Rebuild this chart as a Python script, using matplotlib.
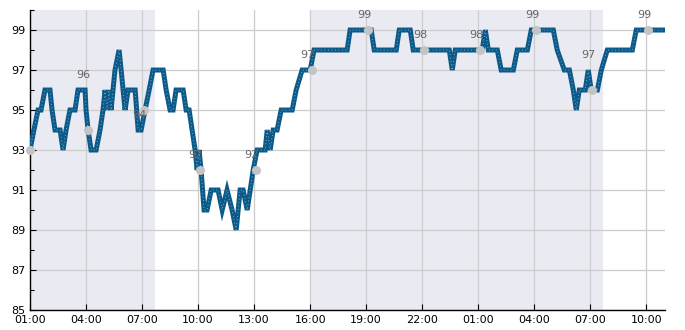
import datetime as dt
import matplotlib
matplotlib.use("Agg")
import matplotlib.pyplot as plt
import matplotlib.dates as mdates
from matplotlib.ticker import MultipleLocator

# hours since 01:00 on day 1, and value at that time
hours = [0.0, 0.21, 0.43, 0.59, 0.80, 1.07, 1.18, 1.34, 1.61, 1.77, 1.93, 2.14,
         2.41, 2.57, 2.95, 3.00, 3.11, 3.27, 3.54, 3.75, 3.91, 4.02, 4.13, 4.23,
         4.34, 4.55, 4.77, 4.88, 5.09, 5.25, 5.63, 5.79, 5.95, 6.16, 6.38, 6.59,
         7.13, 7.29, 7.50, 7.66, 7.82, 8.20, 8.36, 8.52, 8.68, 8.84, 8.95, 9.05,
         9.16, 9.32, 9.48, 9.70, 10.07, 10.29, 10.55, 10.82, 11.04, 11.25, 11.41,
         11.63, 11.95, 12.16, 12.59, 12.70, 12.86, 13.02, 13.23, 13.45, 14.04,
         14.25, 14.57, 15.00, 15.21, 16.98, 17.14, 18.27, 18.43, 19.61, 19.77,
         20.36, 20.52, 22.45, 22.61, 22.77, 24.21, 24.38, 24.54, 25.02, 25.23,
         25.88, 26.09, 26.63, 26.84, 28.02, 28.23, 28.61, 28.88, 29.09, 29.25,
         29.41, 29.73, 29.89, 30.05, 30.38, 30.59, 30.91, 32.25, 32.46, 33.96]
values = [93, 94, 95, 95, 96, 96, 95, 94, 94, 93, 94, 95,
          95, 96, 96, 95, 94, 93, 93, 94, 95, 96, 95, 96,
          95, 97, 98, 97, 95, 96, 96, 94, 94, 95, 96, 97,
          97, 96, 95, 95, 96, 96, 95, 95, 94, 93, 92, 93,
          92, 90, 90, 91, 91, 90, 91, 90, 89, 91, 91,
          90, 92, 93, 93, 94, 93, 94, 94, 95, 95,
          96, 97, 97, 98, 98, 99, 99, 98, 98, 99,
          99, 98, 98, 97, 98, 98, 99, 98, 98, 97,
          97, 98, 98, 99, 99, 98, 97, 97, 96, 95,
          96, 96, 97, 96, 96, 97, 98, 98, 99, 99]

# sampled readings (grey dots) and their labels
point_hours = [0.0, 3.1, 6.1, 9.1, 12.1, 15.1, 18.1, 21.1, 24.1, 27.1, 30.1, 33.1]
point_values = [93, 94, 95, 92, 92, 97, 99, 98, 98, 99, 96, 99]
point_labels = [None, 96, 94, 92, 92, 97, 99, 98, 98, 99, 97, 99]

# shaded night periods (hours since start)
night_spans = [(0.0, 6.67), (15.0, 30.67)]

start = dt.datetime(2024, 1, 1, 1, 0)
to_time = lambda h: start + dt.timedelta(hours=h)

fig = plt.figure(figsize=(6.85, 3.3), dpi=100)
ax = fig.add_axes([0.0438, 0.0606, 0.927, 0.909])

for a, b in night_spans:
    ax.axvspan(to_time(a), to_time(b), color="#eaeaf2", lw=0, zorder=0)

times = [to_time(h) for h in hours]
ax.plot(times, values, color="#0c5a8a", lw=3.6, solid_joinstyle="miter", zorder=3)
ax.plot(times, values, color="white", lw=0.5, alpha=0.85, ls=(0, (1, 4)), zorder=4)

pts = [to_time(h) for h in point_hours]
ax.plot(pts, point_values, "o", color="#c4c4c4", ms=5.5, zorder=5, clip_on=False)
for t, lab in zip(pts, point_labels):
    if lab is None:
        continue
    ax.annotate(str(lab), (t, lab), xytext=(-3, 11), textcoords="offset points",
                ha="center", va="center", fontsize=8, color="#666666", zorder=6)

ax.set_xlim(to_time(0), to_time(34))
ax.set_ylim(85, 100)
ax.xaxis.set_major_locator(mdates.HourLocator(byhour=range(1, 24, 3)))
ax.xaxis.set_major_formatter(mdates.DateFormatter("%H:%M"))
ax.yaxis.set_minor_locator(MultipleLocator(2))
ax.set_yticks(range(85, 100, 2))

ax.grid(True, color="#cccccc", lw=0.9, zorder=1)
ax.set_axisbelow(True)
ax.tick_params(axis="both", which="both", direction="in", labelsize=8, color="black")
ax.tick_params(axis="both", which="major", length=4, width=0.8)
ax.tick_params(axis="y", which="minor", length=3, width=0.8)
for s in ["top", "right"]:
    ax.spines[s].set_visible(False)
for s in ["left", "bottom"]:
    ax.spines[s].set_linewidth(1.0)

fig.savefig("out.png", dpi=100)
